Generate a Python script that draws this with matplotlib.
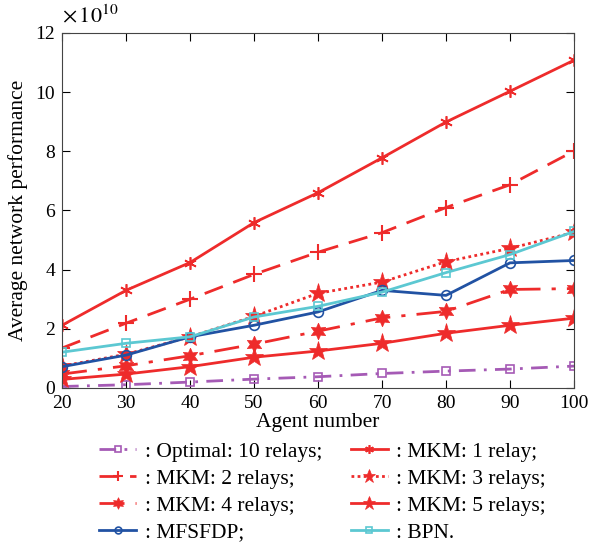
import matplotlib.pyplot as plt

plt.rcParams['font.family'] = ['Liberation Serif', 'DejaVu Serif']
plt.rcParams['mathtext.fontset'] = 'stix'

agents = [20, 30, 40, 50, 60, 70, 80, 90, 100]

# values in units of 1e10
optimal = [0.05, 0.11, 0.20, 0.30, 0.38, 0.49, 0.57, 0.64, 0.74]
mkm1 = [2.12, 3.30, 4.24, 5.59, 6.60, 7.78, 8.99, 10.03, 11.08]
mkm2 = [1.35, 2.19, 3.00, 3.84, 4.59, 5.25, 6.10, 6.87, 8.01]
mkm3 = [0.74, 1.14, 1.73, 2.42, 3.20, 3.58, 4.27, 4.72, 5.26]
mkm4 = [0.47, 0.75, 1.09, 1.48, 1.92, 2.37, 2.59, 3.33, 3.36]
mkm5 = [0.29, 0.47, 0.72, 1.04, 1.25, 1.51, 1.85, 2.12, 2.36]
mfsfdp = [0.72, 1.11, 1.73, 2.12, 2.57, 3.30, 3.13, 4.23, 4.31]
bpn = [1.21, 1.51, 1.73, 2.40, 2.76, 3.24, 3.90, 4.51, 5.29]

red = '#EE2B2B'

fig = plt.figure(figsize=(6.02, 5.46), dpi=100)
ax = fig.add_axes([0.103, 0.2894, 0.8505, 0.6502])

ax.plot(agents, optimal, color='#A55AB5', ls=(0, (6, 3, 1, 3)), lw=2,
        marker='s', ms=6, mfc='none', mew=1.2, label=': Optimal: 10 relays;')
ax.plot(agents, mkm1, color=red, ls='-', lw=2,
        marker=(6, 2, 0), ms=9, mew=1.2, label=': MKM: 1 relay;')
ax.plot(agents, mkm2, color=red, ls=(0, (7, 4)), lw=2,
        marker='+', ms=11, mew=1.5, label=': MKM: 2 relays;')
ax.plot(agents, mkm3, color=red, ls=(0, (1, 1.2)), lw=2,
        marker='*', ms=14, mew=0.5, label=': MKM: 3 relays;')
ax.plot(agents, mkm4, color=red, ls=(0, (9, 4, 1.5, 4)), lw=2,
        marker=(6, 1, 0), ms=12, mew=0.5, label=': MKM: 4 relays;')
ax.plot(agents, mkm5, color=red, ls='-', lw=2,
        marker='*', ms=14, mew=0.5, label=': MKM: 5 relays;')
ax.plot(agents, mfsfdp, color='#2152A3', ls='-', lw=2,
        marker='o', ms=7, mfc='none', mew=1.2, label=': MFSFDP;')
ax.plot(agents, bpn, color='#5CC8D2', ls='-', lw=2,
        marker='s', ms=6, mfc='none', mew=1.2, label=': BPN.')

ax.set_xlim(20, 100)
ax.set_ylim(0, 12)
ax.set_xticks(agents)
ax.set_yticks(range(0, 13, 2))

ax.tick_params(direction='in', top=True, right=True, labelsize=14, length=6, pad=5)
for sp in ax.spines.values():
    sp.set_color('#444444')

ax.text(0.0, 1.015, r'$\times\,10^{10}$', transform=ax.transAxes,
        fontsize=16, ha='left', va='bottom')

ax.set_xlabel('Agent number', fontsize=15.5, labelpad=1)
ax.set_ylabel('Average network performance', fontsize=15.5, labelpad=5)

handles, labels = ax.get_legend_handles_labels()
order = [0, 2, 4, 6, 1, 3, 5, 7]
fig.legend([handles[i] for i in order], [labels[i] for i in order],
           loc='upper left', bbox_to_anchor=(0.165, 0.191), ncol=2,
           frameon=False, fontsize=15.5, handlelength=1.7, handletextpad=0.4,
           columnspacing=1.35, labelspacing=0.32, borderpad=0, borderaxespad=0,
           markerscale=0.7)

fig.savefig('out.png', dpi=100)
